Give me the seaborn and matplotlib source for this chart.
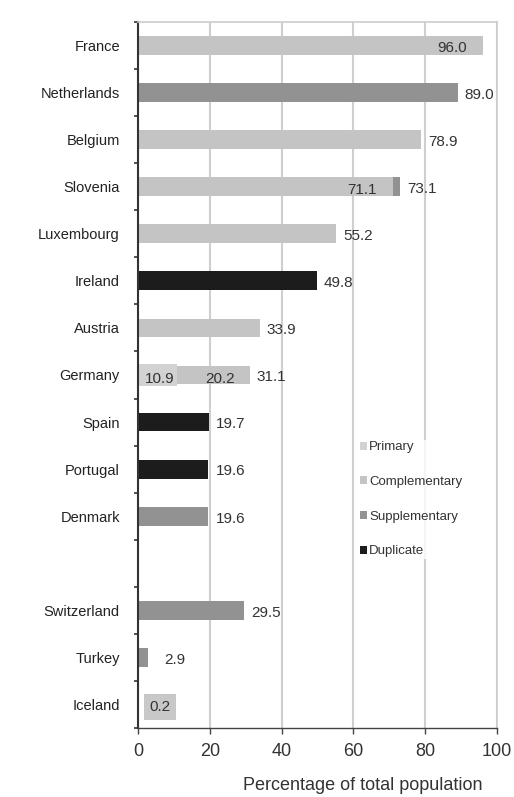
import numpy as np
import pandas as pd
import matplotlib
matplotlib.use("Agg")
import matplotlib.pyplot as plt
from matplotlib.patches import Patch
from matplotlib.ticker import FixedLocator
import seaborn as sns

sns.set_theme(style="white")
plt.rcParams['font.family'] = ['Liberation Sans', 'DejaVu Sans']

# ---- data ----
order = ["France", "Netherlands", "Belgium", "Slovenia", "Luxembourg", "Ireland",
         "Austria", "Germany", "Spain", "Portugal", "Denmark", " ",
         "Switzerland", "Turkey", "Iceland"]
seg_country = ["France", "Netherlands", "Belgium", "Slovenia", "Slovenia", "Luxembourg",
               "Ireland", "Austria", "Germany", "Germany", "Spain", "Portugal", "Denmark",
               "Switzerland", "Turkey", "Iceland"]
seg_type = ["Complementary", "Supplementary", "Complementary", "Complementary", "Supplementary",
            "Complementary", "Duplicate", "Complementary", "Primary", "Complementary",
            "Duplicate", "Duplicate", "Supplementary", "Supplementary", "Supplementary",
            "Complementary"]
seg_value = [96.0, 89.0, 78.9, 71.1, 2.0, 55.2, 49.8, 33.9, 10.9, 20.2, 19.7, 19.6, 19.6,
             29.5, 2.9, 0.2]
total_labels = {"France": 96.0, "Netherlands": 89.0, "Belgium": 78.9, "Slovenia": 73.1,
                "Luxembourg": 55.2, "Ireland": 49.8, "Austria": 33.9, "Germany": 31.1,
                "Spain": 19.7, "Portugal": 19.6, "Denmark": 19.6, "Switzerland": 29.5,
                "Turkey": 2.9, "Iceland": 0.2}
types = ["Primary", "Complementary", "Supplementary", "Duplicate"]
palette = {"Primary": "#d2d2d2", "Complementary": "#c4c4c4",
           "Supplementary": "#929292", "Duplicate": "#1c1c1c"}

df = pd.DataFrame({"country": seg_country, "type": seg_type, "value": seg_value})
df["end"] = df.groupby("country")["value"].cumsum()
df["seg_idx"] = df.groupby("country").cumcount()
df["n_seg"] = df.groupby("country")["value"].transform("count")

fig = plt.figure(figsize=(5.14, 7.97), dpi=100)
ax = fig.add_axes([0.2685, 0.0866, 0.6985, 0.8858])

# draw outer (last) segments first, then inner segments on top
outer = df[df["seg_idx"] == df["n_seg"] - 1]
inner = df[df["seg_idx"] < df["n_seg"] - 1]
sns.barplot(data=outer, x="end", y="country", hue="type", order=order,
            hue_order=types, palette=palette, dodge=False, width=0.4,
            legend=False, ax=ax, saturation=1, linewidth=0, edgecolor="none")
for t, sub in inner.groupby("type"):
    w = 0.47 if t == "Primary" else 0.4
    sns.barplot(data=sub, x="end", y="country", hue="type", order=order,
                hue_order=types, palette=palette, dodge=False, width=w,
                legend=False, ax=ax, saturation=1, linewidth=0, edgecolor="none")

ax.set_xlim(0, 100)
ax.set_ylim(14.5, -0.5)
ax.set_xticks([0, 20, 40, 60, 80, 100])
ax.grid(axis="x", color="#cfcfcf", linewidth=1.5)
ax.grid(axis="y", visible=False)
ax.set_axisbelow(True)

for s in ["top", "right"]:
    ax.spines[s].set_color("#cccccc")
    ax.spines[s].set_linewidth(1.2)
ax.spines["left"].set_color("#333333")
ax.spines["left"].set_linewidth(1.5)
ax.spines["bottom"].set_color("#444444")
ax.spines["bottom"].set_linewidth(1.0)

ax.set_ylabel("")
ax.set_xlabel("Percentage of total population", fontsize=13, color="#333333")
ax.xaxis.set_label_coords(0.627, -0.07)

ax.tick_params(axis="y", which="major", length=0, pad=13, labelsize=10.5,
               labelcolor="#222222")
ax.yaxis.set_minor_locator(FixedLocator(np.arange(-0.5, 15, 1.0)))
ax.tick_params(axis="y", which="minor", left=True, length=3, width=1.2, color="#333333",
               direction="out")
ax.tick_params(axis="x", length=4, width=1, color="#444444", direction="out",
               labelsize=13, labelcolor="#333333", pad=7, bottom=True)

pos = {c: i for i, c in enumerate(order)}
lab_kw = dict(fontsize=11, color="#333333", va="center")
for c, v in total_labels.items():
    y = pos[c] + 0.05
    if c == "France":
        ax.text(v - 4.5, y, f"{v:.1f}", ha="right", **lab_kw)
    elif c == "Iceland":
        ax.text(6.1, y, f"{v:.1f}", ha="center", fontsize=11, color="#333333",
                va="center", bbox=dict(boxstyle="square,pad=0.38", fc="#c8c8c8", ec="none"))
    elif c == "Turkey":
        ax.text(v + 4.5, y, f"{v:.1f}", ha="left", **lab_kw)
    else:
        ax.text(v + 2.0, y, f"{v:.1f}", ha="left", **lab_kw)
# inner segment labels
ax.text(71.1 - 4.5, pos["Slovenia"] + 0.08, "71.1", ha="right", **lab_kw)
ax.text(2.0, pos["Germany"] + 0.08, "10.9", ha="left", **lab_kw)
ax.text(18.8, pos["Germany"] + 0.08, "20.2", ha="left", **lab_kw)

handles = [Patch(facecolor=palette[t], edgecolor="none", label=t) for t in types]
leg = ax.legend(handles=handles, loc="upper left", bbox_to_anchor=(0.615, 0.408),
                frameon=True, fontsize=9.5, handlelength=0.55, handleheight=0.55,
                handletextpad=0.15, labelspacing=1.72, borderpad=0.1, borderaxespad=0)
leg.get_frame().set_facecolor("white")
leg.get_frame().set_edgecolor("none")
for txt in leg.get_texts():
    txt.set_color("#333333")

fig.savefig("out.png", dpi=100)
